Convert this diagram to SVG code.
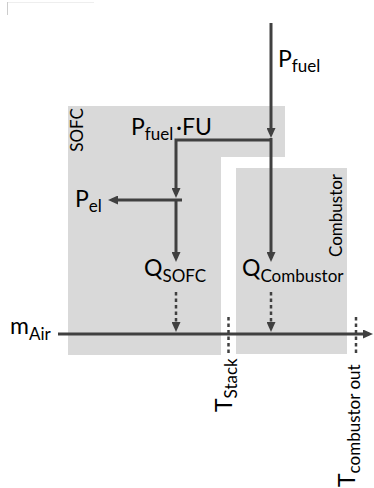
<svg xmlns="http://www.w3.org/2000/svg" width="374" height="488" viewBox="0 0 374 488">
<style>
.box{fill:#d9d9d9;stroke:none}
.ln{fill:none;stroke:#404040;stroke-width:3}
.dash{fill:none;stroke:#404040;stroke-width:2.5;stroke-dasharray:3.5 3}
.t{font-family:Lato,"Liberation Sans",sans-serif;font-size:23px;fill:#000}
.s{font-size:17px}
.lbl{font-family:Lato,"Liberation Sans",sans-serif;font-size:17px;fill:#000}
</style>
<defs>
<marker id="ah" viewBox="0 0 10 9" refX="6" refY="4.5" markerWidth="10" markerHeight="9" markerUnits="userSpaceOnUse" orient="auto">
<path d="M0,0 L10,4.5 L0,9 Z" fill="#404040"/>
</marker>
</defs>
<g id="frame-corner">
<line x1="7" y1="2.5" x2="94" y2="2.5" stroke="#eeeeee" stroke-width="1"/>
<line x1="7.5" y1="2" x2="7.5" y2="15" stroke="#cccccc" stroke-width="1"/>
</g>
<g id="node-sofc">
<path class="box" d="M68,106 H285 V157 H221 V355 H68 Z"/>
<text class="lbl" transform="translate(83,130) rotate(-90)" text-anchor="middle">SOFC</text>
</g>
<g id="node-combustor">
<rect class="box" x="236" y="168" width="111" height="186"/>
<text class="lbl" transform="translate(341.5,215.5) rotate(-90)" text-anchor="middle">Combustor</text>
</g>
<g id="connectors">
<line class="ln" x1="271" y1="23" x2="271" y2="134" marker-end="url(#ah)"/>
<line class="ln" x1="271" y1="138" x2="271" y2="258" marker-end="url(#ah)"/>
<polyline class="ln" points="271,140 176,140 176,194" marker-end="url(#ah)"/>
<line class="ln" x1="176" y1="199" x2="176" y2="258" marker-end="url(#ah)"/>
<line class="ln" x1="182" y1="200" x2="112" y2="200" marker-end="url(#ah)"/>
<line class="dash" x1="176" y1="292" x2="176" y2="328" marker-end="url(#ah)"/>
<line class="dash" x1="271" y1="292" x2="271" y2="328" marker-end="url(#ah)"/>
<line class="ln" x1="58" y1="334" x2="369" y2="334" marker-end="url(#ah)"/>
<line class="dash" x1="228.5" y1="317" x2="228.5" y2="354"/>
<line class="dash" x1="356" y1="317" x2="356" y2="354"/>
</g>
<g id="labels">
<text class="t" x="278" y="66.5">P<tspan class="s" dy="5">fuel</tspan></text>
<text class="t" x="131" y="135">P<tspan class="s" dy="5">fuel</tspan><tspan x="176" dy="-5">·FU</tspan></text>
<text class="t" x="75" y="206.5">P<tspan class="s" dy="5">el</tspan></text>
<text class="t" x="144" y="276">Q<tspan class="s" dy="6">SOFC</tspan></text>
<text class="t" x="242" y="276">Q<tspan class="s" dy="6">Combustor</tspan></text>
<text class="t" x="10" y="333.5">m<tspan class="s" dy="6">Air</tspan></text>
<text class="t" transform="translate(232,412) rotate(-90)">T<tspan class="s" dy="5">Stack</tspan></text>
<text class="t" transform="translate(355,487) rotate(-90)">T<tspan class="s" dy="5">combustor out</tspan></text>
</g>
</svg>
